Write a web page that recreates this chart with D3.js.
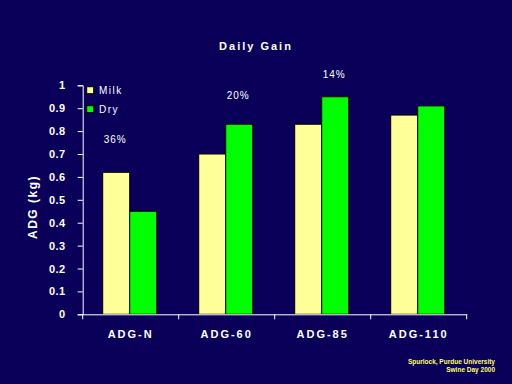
<!DOCTYPE html>
<html><head><meta charset="utf-8">
<script src="https://cdn.jsdelivr.net/npm/d3@7"></script>
<style>
html,body{margin:0;padding:0;background:#0a005a;}
svg{display:block;}
text{font-family:Arial,"Liberation Sans",sans-serif;fill:#fff;}
</style></head>
<body>
<svg id="c" width="512" height="384"></svg>
<script>
const categories = ["ADG-N","ADG-60","ADG-85","ADG-110"];
const seriesNames = ["Milk","Dry"];
const milk = [0.62,0.70,0.83,0.87];
const dry = [0.45,0.83,0.95,0.91];
const yTicks = [0,0.1,0.2,0.3,0.4,0.5,0.6,0.7,0.8,0.9,1];
const annotations = ["36%","20%","14%"];
const annotationSeries = ["Milk","Dry","Dry"];
const annotationValues = [0.75,0.94,1.033];
const colors = ["#ffff99","#00ff00"];

const svg = d3.select("#c");
svg.append("rect").attr("width",512).attr("height",384).attr("fill","#0a005a");

const x = d3.scaleBand().domain(categories).range([82.7,466.7]).padding(0);
const xs = d3.scaleBand().domain(seriesNames).range([20,74]).padding(0);
const y = d3.scaleLinear().domain([0,1]).range([314.3,85.3]);

const data = categories.map((c,i)=>({cat:c, vals:[milk[i],dry[i]]}));

// bars
const g = svg.append("g");
data.forEach(d=>{
  d.vals.forEach((v,j)=>{
    g.append("rect")
      .attr("x", x(d.cat)+xs(seriesNames[j]))
      .attr("y", y(v))
      .attr("width", xs.bandwidth())
      .attr("height", y(0)-y(v))
      .attr("fill", colors[j])
      .attr("stroke","#000").attr("stroke-width",1);
  });
});

// y axis
const yAxis = d3.axisLeft(y).tickValues(yTicks).tickSize(5).tickFormat(d=> d===0?"0":d===1?"1":d3.format(".1f")(d));
const ya = svg.append("g").attr("transform","translate(82.7,0)").call(yAxis);
ya.select(".domain").attr("stroke","#fff").attr("stroke-width",1);
ya.selectAll(".tick line").attr("stroke","#fff");
ya.selectAll(".tick text").attr("x",-17).style("font-size","11px").style("font-weight","bold").attr("fill","#fff").style("letter-spacing","0.5px");

// x axis
const xAxis = d3.axisBottom(x).tickValues([]).tickSizeOuter(0);
const xa = svg.append("g").attr("transform","translate(0,314.3)").call(xAxis);
xa.select(".domain").attr("stroke","#fff");
const edges = categories.map(c=>x(c)).concat([x.range()[1]]);
xa.selectAll(".edge").data(edges).enter().append("line")
  .attr("x1",d=>d).attr("x2",d=>d).attr("y1",0).attr("y2",5).attr("stroke","#fff");
xa.selectAll(".lbl").data(categories).enter().append("text")
  .attr("x",d=>x(d)+x.bandwidth()/2).attr("y",24)
  .attr("text-anchor","middle").style("font-size","11px").style("font-weight","bold")
  .style("letter-spacing","2px").text(d=>d);

// y label
svg.append("text").attr("transform","translate(37,207) rotate(-90)")
  .attr("text-anchor","middle").style("font-size","12px").style("font-weight","bold")
  .style("letter-spacing","1.5px").text("ADG (kg)");

// title
svg.append("text").attr("x",256).attr("y",50).attr("text-anchor","middle")
  .style("font-size","11px").style("font-weight","bold").style("letter-spacing","2px").text("Daily Gain");

// annotations
annotations.forEach((a,i)=>{
  const c = categories[i];
  svg.append("text").attr("x", x(c)+xs(annotationSeries[i])+xs.bandwidth()/2 - 1)
    .attr("y", y(annotationValues[i])).attr("text-anchor","middle")
    .style("font-size","10px").style("letter-spacing","1px").text(a);
});

// legend
seriesNames.forEach((s,j)=>{
  const ly = 86.7 + j*19;
  svg.append("rect").attr("x",86.7).attr("y",ly).attr("width",7).attr("height",7)
    .attr("fill",colors[j]).attr("stroke","#000");
  svg.append("text").attr("x",99).attr("y",ly+7).style("font-size","10px")
    .style("letter-spacing","1.5px").text(s);
});

// footer
const foot = svg.append("g");
foot.append("text").attr("x",495).attr("y",364).attr("text-anchor","end")
  .style("font-size","6.5px").style("font-weight","bold").style("fill","#ffff66").text("Spurlock, Purdue University");
foot.append("text").attr("x",495).attr("y",371.5).attr("text-anchor","end")
  .style("font-size","6.5px").style("font-weight","bold").style("fill","#ffff66").text("Swine Day 2000");
</script>
</body></html>
